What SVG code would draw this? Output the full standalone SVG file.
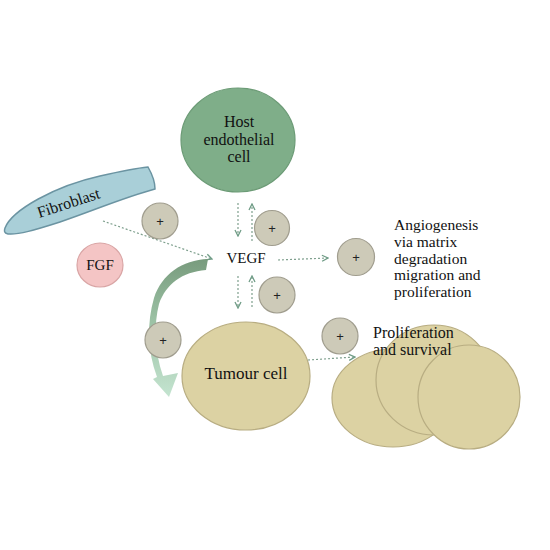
<svg xmlns="http://www.w3.org/2000/svg" width="550" height="550" viewBox="0 0 550 550">
<defs>
<marker id="ah" viewBox="0 0 8 8" refX="7" refY="4" markerWidth="8" markerHeight="8" markerUnits="userSpaceOnUse" orient="auto">
<path d="M1,1 L7,4 L1,7" fill="none" stroke="#6f9c86" stroke-width="1.3"/>
</marker>
<linearGradient id="cg" x1="0" y1="0" x2="0" y2="1">
<stop offset="0" stop-color="#789b7d"/>
<stop offset="0.45" stop-color="#9cc2a5"/>
<stop offset="1" stop-color="#c4e4d0"/>
</linearGradient>
<style>
.t{font-family:"Liberation Serif","DejaVu Serif",serif;fill:#111}
.plus circle{fill:#cdcab8;stroke:#a09d8e;stroke-width:1.2}
.plus text{font-family:"Liberation Sans",sans-serif;font-size:13px;fill:#222;text-anchor:middle}
.dash{fill:none;stroke:#7fa08e;stroke-width:1.2;stroke-dasharray:2 2;marker-end:url(#ah)}
.cell{fill:#dcd2a3;stroke:#b8ad82;stroke-width:1.2}
</style>
</defs>
<rect width="550" height="550" fill="#fff"/>

<g id="host">
<ellipse cx="238" cy="140" rx="57" ry="52" fill="#7fae89" stroke="#6c9b76" stroke-width="1.2"/>
<text class="t" font-size="16" text-anchor="middle"><tspan x="239" y="127">Host</tspan><tspan x="239" y="145">endothelial</tspan><tspan x="239" y="162">cell</tspan></text>
</g>

<g id="fibroblast">
<path d="M5,228 C12,210 55,186 100,176 C122,171 138,168 148,167 C152,174 155,182 155,189 C125,197 95,210 60,222 C35,230 18,235 8,234 C4,233 4,231 5,228 Z" fill="#a9cfd8" stroke="#6b94a2" stroke-width="1.5"/>
<text class="t" font-size="16" text-anchor="middle" transform="translate(70,208) rotate(-18)">Fibroblast</text>
</g>

<g id="fgf">
<ellipse cx="100" cy="265" rx="23" ry="22" fill="#f4c5c5" stroke="#d9a5a5" stroke-width="1.2"/>
<text class="t" font-size="15" x="100" y="270" text-anchor="middle">FGF</text>
</g>

<g id="vegf">
<text class="t" font-size="15" x="246" y="263" text-anchor="middle">VEGF</text>
</g>

<g id="tumour">
<ellipse class="cell" cx="246" cy="376" rx="64" ry="54"/>
<text class="t" font-size="17" x="246" y="379" text-anchor="middle">Tumour cell</text>
</g>

<g id="proliferating-cells">
<ellipse class="cell" cx="393" cy="398" rx="61" ry="49"/>
<ellipse class="cell" cx="434" cy="380" rx="58" ry="55"/>
<ellipse class="cell" cx="469" cy="397" rx="51" ry="52"/>
</g>

<g id="angiogenesis-label">
<text class="t" font-size="15.5"><tspan x="394" y="230">Angiogenesis</tspan><tspan x="394" y="247">via matrix</tspan><tspan x="394" y="264">degradation</tspan><tspan x="394" y="280">migration and</tspan><tspan x="394" y="297">proliferation</tspan></text>
</g>

<g id="proliferation-label">
<text class="t" font-size="16"><tspan x="373" y="338">Proliferation</tspan><tspan x="373" y="355">and survival</tspan></text>
</g>

<g id="connectors">
<path class="dash" d="M103,221 L212,259"/>
<path class="dash" d="M238,203 L238,236"/>
<path class="dash" d="M252,241 L252,204"/>
<path class="dash" d="M238,276 L238,308"/>
<path class="dash" d="M252,307 L252,276"/>
<path class="dash" d="M278,260 L328,258"/>
<path class="dash" d="M308,360 L355,357"/>
<path d="M208,259 C182,260 162,274 154,298 C147,322 147,350 157,377 L153,379 L169,397 L178,373 L163,376 C154,350 154,324 159,304 C166,284 182,272 206,270 Z" fill="url(#cg)" stroke="none"/>
</g>

<g id="plus-signs" class="plus">
<g id="p1"><circle cx="160" cy="221" r="18"/><text x="160" y="226">+</text></g>
<g id="p2"><circle cx="272" cy="228" r="17.5"/><text x="272" y="233">+</text></g>
<g id="p3"><circle cx="277" cy="295" r="18"/><text x="277" y="300">+</text></g>
<g id="p4"><circle cx="356" cy="257" r="18.5"/><text x="356" y="262">+</text></g>
<g id="p5"><circle cx="163" cy="340" r="18"/><text x="163" y="345">+</text></g>
<g id="p6"><circle cx="340" cy="336" r="18"/><text x="340" y="341">+</text></g>
</g>
</svg>
